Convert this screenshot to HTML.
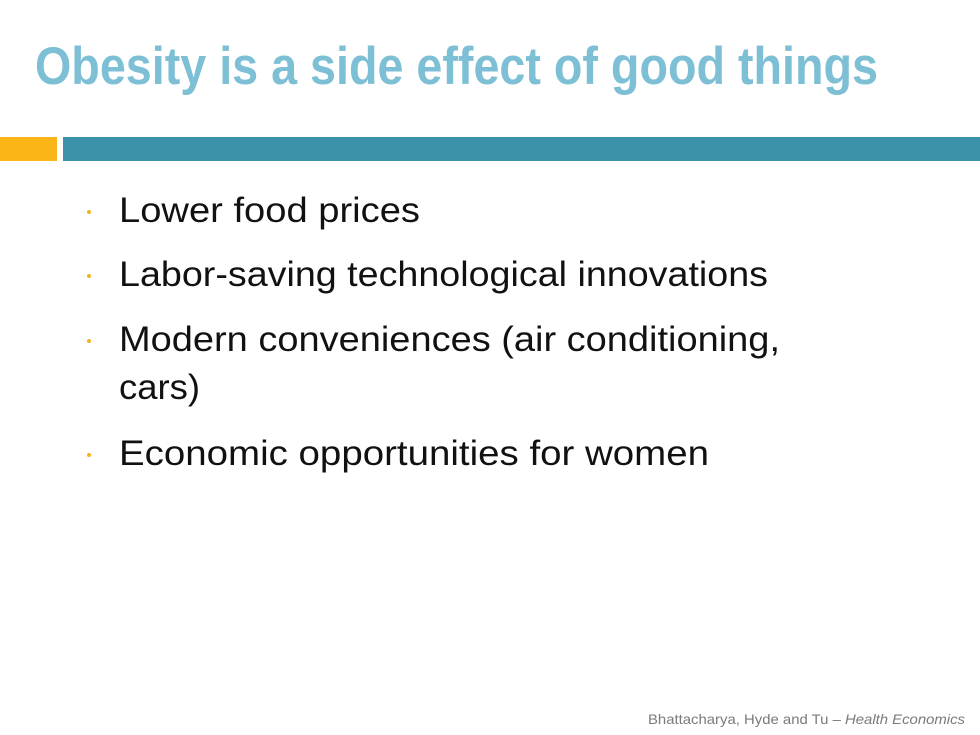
<!DOCTYPE html>
<html><head><meta charset="utf-8"><style>
html,body{margin:0;padding:0}
body{width:980px;height:735px;position:relative;background:#fff;overflow:hidden;font-family:"Liberation Sans",sans-serif}
.t{position:absolute;white-space:nowrap;transform-origin:0 0;line-height:1}
#title{left:35px;top:40px;font-size:53px;font-weight:bold;color:#7dbfd4}
.b{font-size:35px;color:#111;left:119px}
.dot{position:absolute;width:4px;height:4px;border-radius:2px;background:#f5b21c;left:87px}
</style></head><body>
<div id="title" class="t fit" data-w="843">Obesity is a side effect of good things</div>
<div style="position:absolute;left:0;top:137px;width:57px;height:24px;background:#fbb516"></div>
<div style="position:absolute;left:63px;top:137px;width:917px;height:24px;background:#3b93aa"></div>

<div class="dot" style="top:210px"></div>
<div class="t b fit" data-w="301" style="top:193px">Lower food prices</div>
<div class="dot" style="top:274px"></div>
<div class="t b fit" data-w="649" style="top:257px">Labor-saving technological innovations</div>
<div class="dot" style="top:339px"></div>
<div class="t b fit" data-w="661" style="top:322px">Modern conveniences (air conditioning,</div>
<div class="t b fit" data-w="81" style="top:370px">cars)</div>
<div class="dot" style="top:453px"></div>
<div class="t b fit" data-w="590" style="top:436px">Economic opportunities for women</div>

<div class="t fit" data-w="317" style="left:648px;top:712px;font-size:14px;color:#7a7a7a">Bhattacharya, Hyde and Tu – <i>Health Economics</i></div>
<script>
document.querySelectorAll('.fit').forEach(function(e){
  var w=e.getBoundingClientRect().width;var tw=+e.getAttribute('data-w');
  if(w>0)e.style.transform='scaleX('+(tw/w)+')';
});
</script>
</body></html>
